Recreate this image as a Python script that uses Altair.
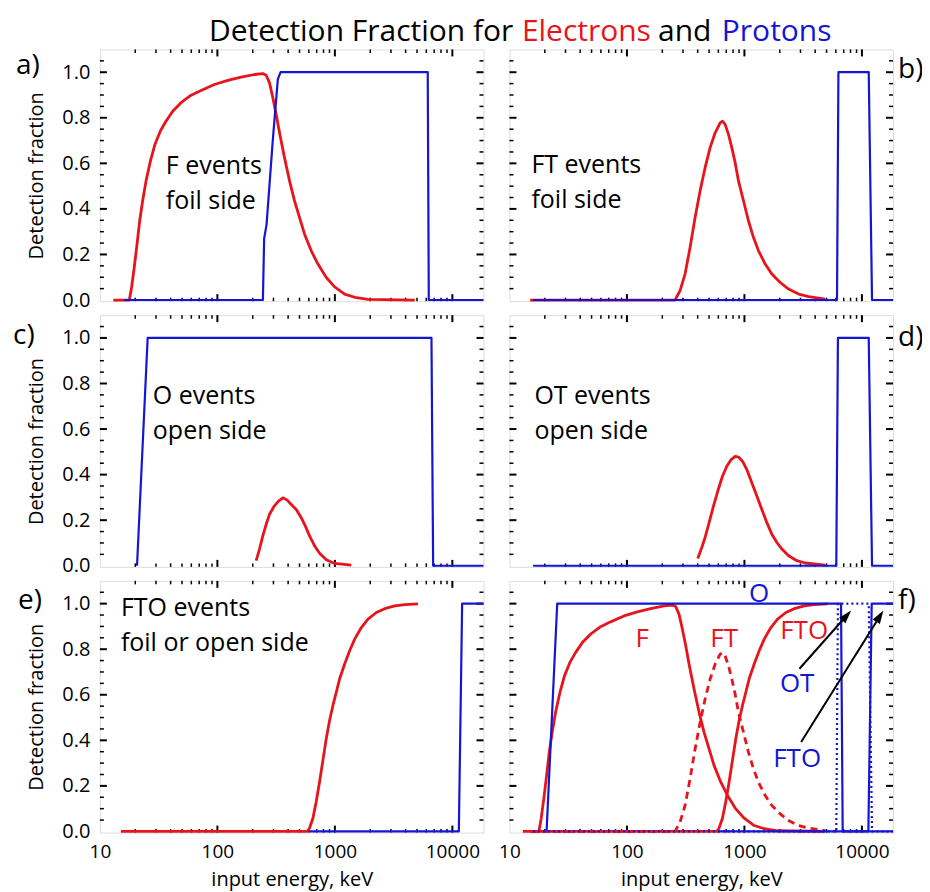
import altair as alt
import pandas as pd

FONT = "Open Sans"
RED = "#e8141c"
BLUE = "#1515d5"
W, H = 384, 252
X_DOMAIN = [10, 18400]
Y_DOMAIN = [-0.005, 1.1]

# ---------------- data ----------------
# a) F events, foil side (electrons / protons)
F_e_E = [13, 17.8, 18.6, 19.6, 20.7, 21.8, 23.1, 24.7, 26.9, 29.4, 32.7, 36.5, 41.7, 49.0, 59.7, 72.6,
         94.3, 122.6, 159.2, 206.9, 243.6, 260.2, 277.8, 296.5, 316.5, 337.9, 372.6, 411.2, 453.6, 500.5,
         552.1, 629.3, 717.3, 844.9, 994.8, 1211, 1474, 1914, 4783]
F_e_v = [0, 0, 0.055, 0.143, 0.245, 0.347, 0.435, 0.523, 0.610, 0.683, 0.742, 0.785, 0.829, 0.866, 0.899, 0.920,
         0.946, 0.964, 0.978, 0.990, 0.994, 0.987, 0.953, 0.888, 0.815, 0.734, 0.625, 0.523, 0.435, 0.362,
         0.289, 0.216, 0.158, 0.099, 0.058, 0.026, 0.012, 0.003, 0.0]
F_p_E = [16, 244, 250, 262, 296, 327, 345, 6170, 6300, 18400]
F_p_v = [0, 0, 0.27, 0.33, 0.70, 0.97, 1.0, 1.0, 0, 0]

# b) FT events, foil side
FT_e_E = [15, 256.8, 283.2, 312.3, 344.6, 380.2, 419.4, 462.6, 510.5, 563.1, 621.2, 650.1, 685.1, 731.6,
          781.0, 833.7, 890.0, 981.8, 1083, 1195, 1318, 1502, 1712, 2017, 2376, 2891, 3517, 4879]
FT_e_v = [0, 0, 0.041, 0.114, 0.231, 0.362, 0.479, 0.581, 0.669, 0.734, 0.778, 0.785, 0.771, 0.727,
          0.669, 0.603, 0.523, 0.435, 0.347, 0.274, 0.216, 0.158, 0.114, 0.077, 0.048, 0.026, 0.015, 0.004]
FT_p_E = [15.9, 6137, 6310, 11430, 12190, 18400]
FT_p_v = [0, 0, 1, 1, 0, 0]

# c) O events, open side
O_e_E = [213.8, 228.2, 243.6, 260.2, 277.8, 302.3, 331.3, 360.8, 392.9, 425.1, 468.9, 517.1, 559.4,
         608.9, 671.8, 741.2, 844.9, 994.8, 1380]
O_e_v = [0.022, 0.073, 0.131, 0.182, 0.226, 0.259, 0.284, 0.298, 0.288, 0.269, 0.247, 0.211, 0.175,
         0.131, 0.087, 0.055, 0.026, 0.010, 0.003]
O_p_E = [20.7, 25.5, 6640, 6860, 18400]
O_p_v = [0, 1, 1, 0, 0]

# d) OT events, open side
OT_e_E = [400.6, 433.4, 462.6, 500.5, 545.0, 593.3, 650.1, 707.9, 770.8, 833.7, 890.0, 962.8, 1048,
          1156, 1275, 1407, 1552, 1712, 1889, 2084, 2376, 2798, 3293, 4879]
OT_e_v = [0.032, 0.080, 0.124, 0.189, 0.262, 0.328, 0.393, 0.437, 0.466, 0.480, 0.477, 0.459, 0.422,
          0.364, 0.306, 0.247, 0.189, 0.138, 0.102, 0.073, 0.044, 0.022, 0.012, 0.003]
OT_p_E = [15.9, 6050, 6250, 11430, 12190, 18400]
OT_p_v = [0, 0, 1, 1, 0, 0]

# e) FTO events, foil or open side
FTO_e_E = [15.1, 581.9, 608.9, 650.1, 694.0, 741.2, 791.2, 844.9, 902.0, 962.8, 1027.8, 1097.3, 1210.6,
           1335.6, 1473.5, 1679, 1914, 2254, 2655, 3231, 3931, 5107]
FTO_e_v = [0, 0, 0.015, 0.058, 0.131, 0.218, 0.313, 0.408, 0.488, 0.553, 0.611, 0.670, 0.735,
           0.793, 0.844, 0.895, 0.932, 0.961, 0.978, 0.990, 0.996, 0.999]
FTO_p_E = [600, 11350, 12110, 18400]
FTO_p_v = [0, 0, 1, 1]

# axis ticks / labels
X_LABELS = [10, 100, 1000, 10000]
Y_LABELS = [0.0, 0.2, 0.4, 0.6, 0.8, 1.0]
X_MAJOR = [100, 1000, 10000]
X_MINOR = [m * 10 ** k for k in (1, 2, 3) for m in range(2, 10)]
Y_MAJOR = [0.2, 0.4, 0.6, 0.8, 1.0]
Y_MINOR = [0.05, 0.10, 0.15, 0.25, 0.30, 0.35, 0.45, 0.50, 0.55, 0.65, 0.70, 0.75, 0.85, 0.90, 0.95, 1.05]

ONE = alt.Data(values=[{}])


def make_panel(lines, texts, show_x, show_y):
    xs = alt.Scale(type="log", domain=X_DOMAIN)
    ys = alt.Scale(domain=Y_DOMAIN)
    if show_x:
        xa = alt.Axis(values=X_LABELS, format="d", ticks=False, domain=False, grid=False,
                      labelFont=FONT, labelFontSize=19, labelColor="black", labelPadding=10,
                      labelFlush=False, labelOverlap=False,
                      title="input energy, keV", titleFont=FONT, titleFontSize=20,
                      titleFontWeight="normal", titleColor="black", titlePadding=7.5)
    else:
        xa = None
    if show_y:
        ya = alt.Axis(values=Y_LABELS, format=".1f", ticks=False, domain=False, grid=False,
                      labelFont=FONT, labelFontSize=20, labelColor="black", labelPadding=10,
                      labelFlush=False, labelOverlap=False,
                      title="Detection fraction", titleFont=FONT, titleFontSize=20,
                      titleFontWeight="normal", titleColor="black", titlePadding=15)
    else:
        ya = None

    def X():
        return alt.X("E:Q", scale=xs, axis=xa)

    def Y():
        return alt.Y("v:Q", scale=ys, axis=ya)

    layers = []
    # inward ticks on all four sides
    for vals, ln, sw in ((X_MAJOR, 7, 2), (X_MINOR, 3.5, 1.5)):
        d = pd.DataFrame({"E": vals})
        layers.append(alt.Chart(d).mark_rule(color="black", strokeWidth=sw).encode(
            x=X(), y=alt.value(H), y2=alt.value(H - ln)))
        layers.append(alt.Chart(d).mark_rule(color="black", strokeWidth=sw).encode(
            x=X(), y=alt.value(0), y2=alt.value(ln)))
    for vals, ln, sw in ((Y_MAJOR, 7, 2), (Y_MINOR, 4, 1.5)):
        d = pd.DataFrame({"v": vals})
        layers.append(alt.Chart(d).mark_rule(color="black", strokeWidth=sw).encode(
            y=Y(), x=alt.value(0), x2=alt.value(ln)))
        layers.append(alt.Chart(d).mark_rule(color="black", strokeWidth=sw).encode(
            y=Y(), x=alt.value(W), x2=alt.value(W - ln)))

    for (E, v, color, width, dash) in lines:
        df = pd.DataFrame({"E": E, "v": v, "i": list(range(len(E)))})
        props = dict(color=color, strokeWidth=width, strokeJoin="round")
        if dash:
            props["strokeDash"] = dash
        layers.append(alt.Chart(df).mark_line(**props).encode(x=X(), y=Y(), order="i:Q"))

    for t in texts:
        layers.append(t)

    return alt.layer(*layers).properties(width=W, height=H)


def txt(s, x, y, color="black", size=25, align="left", lh=None):
    props = dict(text=s, font=FONT, fontSize=size, color=color, align=align, baseline="alphabetic")
    if lh:
        props["lineHeight"] = lh
    return alt.Chart(ONE).mark_text(**props).encode(x=alt.value(x), y=alt.value(y))


def arrow(x0, y0, x1, y1, ang):
    shaft = alt.Chart(ONE).mark_rule(color="black", strokeWidth=2).encode(
        x=alt.value(x0), y=alt.value(y0), x2=alt.value(x1), y2=alt.value(y1))
    head = alt.Chart(ONE).mark_point(shape="M0,-1L0.6,0.9L-0.6,0.9Z", filled=True, color="black",
                                     opacity=1, size=200, angle=ang, strokeWidth=0).encode(
        x=alt.value(x1), y=alt.value(y1))
    return [shaft, head]


PL = 28  # panel letter font size
TS = 30  # title font size
TY = -8  # title baseline relative to panel a's top
LS = 26  # curve label size in panel f
RX = 389  # x of right-hand panel letters
RW, BW = 2.8, 2.2  # red / blue line widths

pa = make_panel(
    [(F_e_E, F_e_v, RED, RW, None), (F_p_E, F_p_v, BLUE, BW, None)],
    [txt(["F events", "foil side"], 66, 125, lh=35),
     txt("a)", -84, 25, size=PL),
     txt("Detection Fraction for", 261.5, TY, size=TS, align="center"),
     txt("Electrons", 487, TY, color=RED, size=TS, align="center"),
     txt("and", 585.5, TY, size=TS, align="center"),
     txt("Protons", 677.5, TY, color=BLUE, size=TS, align="center")],
    False, True)

pb = make_panel(
    [(FT_e_E, FT_e_v, RED, RW, None), (FT_p_E, FT_p_v, BLUE, BW, None)],
    [txt(["FT events", "foil side"], 22, 124, lh=35), txt("b)", RX, 29, size=PL)],
    False, False)

pc = make_panel(
    [(O_e_E, O_e_v, RED, RW, None), (O_p_E, O_p_v, BLUE, BW, None)],
    [txt(["O events", "open side"], 53, 89, lh=35), txt("c)", -87, 29, size=PL)],
    False, True)

pd_ = make_panel(
    [(OT_e_E, OT_e_v, RED, RW, None), (OT_p_E, OT_p_v, BLUE, BW, None)],
    [txt(["OT events", "open side"], 25, 89, lh=35), txt("d)", RX, 31, size=PL)],
    False, False)

pe = make_panel(
    [(FTO_e_E, FTO_e_v, RED, RW, None), (FTO_p_E, FTO_p_v, BLUE, BW, None)],
    [txt(["FTO events", "foil or open side"], 21, 35, lh=35), txt("e)", -82, 28, size=PL)],
    True, True)

pf = make_panel(
    [(F_e_E, F_e_v, RED, RW, None), (FT_e_E, FT_e_v, RED, RW, [7, 5]), (FTO_e_E, FTO_e_v, RED, RW, None),
     (O_p_E, O_p_v, BLUE, BW, None), (OT_p_E, OT_p_v, BLUE, BW, [2, 3]), (FTO_p_E, FTO_p_v, BLUE, BW, None)],
    [txt("O", 250, 21, color=BLUE, size=LS, align="center"),
     txt("F", 133, 66, color=RED, size=LS, align="center"),
     txt("FT", 215, 66, color=RED, size=LS, align="center"),
     txt("FTO", 295, 58, color=RED, size=LS, align="center"),
     txt("OT", 288, 111, color=BLUE, size=LS, align="center"),
     txt("FTO", 288, 186, color=BLUE, size=LS, align="center"),
     txt("f)", RX, 28, size=PL)]
    + arrow(290.3, 88, 337.4, 34.9, 41.6)
    + arrow(292, 161.3, 370.6, 35.6, 32.0),
    True, False)

chart = alt.concat(pa, pb, pc, pd_, pe, pf, columns=2,
                   spacing={"row": 14, "column": 26}, bounds="flush").properties(
    padding={"left": 4, "top": 8, "right": -2, "bottom": 3}
).configure_view(stroke="black", strokeWidth=2).configure(background="white")

chart.save("out.html", embed_options={"renderer": "svg", "actions": False})
